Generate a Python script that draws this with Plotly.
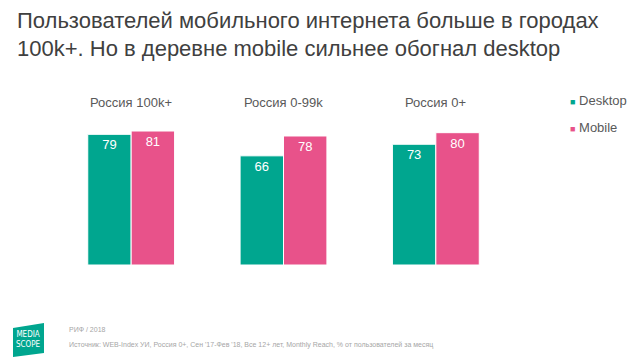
import plotly.graph_objects as go

# ---- data ----
categories = ["Россия 100k+", "Россия 0-99k", "Россия 0+"]
series_names = ["Desktop", "Mobile"]
desktop = [79, 66, 73]
mobile = [81, 78, 80]
series_values = [desktop, mobile]
colors = ["#00A68F", "#E8528A"]

title_lines = ["Пользователей мобильного интернета больше в городах",
               "100k+. Но в деревне mobile сильнее обогнал desktop"]
footer_top = "РИФ / 2018"
footer_src = ("Источник: WEB-Index УИ, Россия 0+, Сен '17-Фев '18, Все 12+ лет, "
              "Monthly Reach, % от пользователей за месяц")

FONT = "Arial, Liberation Sans, sans-serif"
OFF = 8                      # page body margin of the html page
W, H = 640 - OFF, 361 - OFF  # figure size so that it fits the window
# plot area in window pixels
PL, PR, PT, PB = 55, 512, 80, 265
ML, MT = PL - OFF, PT - OFF
MR, MB = W - (PR - OFF), H - (PB - OFF)
PW, PH = W - ML - MR, H - MT - MB


def px_x(x):
    """window x pixel -> paper coordinate"""
    return (x - OFF - ML) / PW


def px_y(y):
    """window y pixel -> paper coordinate"""
    return (H - MB - (y - OFF)) / PH


fig = go.Figure()
for name, vals, col in zip(series_names, series_values, colors):
    fig.add_trace(go.Bar(
        x=categories, y=vals, name=name,
        marker=dict(color=col, line=dict(color="white", width=1)),
        text=vals, texttemplate="%{text}", textposition="inside",
        insidetextanchor="end",
        textfont=dict(color="white", size=13, family=FONT),
        showlegend=False, hoverinfo="skip",
    ))

annotations = []
# title (two lines)
for i, line in enumerate(title_lines):
    annotations.append(dict(
        x=px_x(15), xref="paper", y=px_y(21 + 28 * i), yref="paper",
        text=line, showarrow=False, xanchor="left", yanchor="middle",
        font=dict(size=22, color="#404040", family=FONT)))

# category labels above groups
for c in categories:
    annotations.append(dict(
        x=c, xref="x", y=px_y(102), yref="paper", text=c, showarrow=False,
        font=dict(size=13, color="#595959", family=FONT),
        xanchor="center", yanchor="middle"))

# legend
for i, (name, col) in enumerate(zip(series_names, colors)):
    annotations.append(dict(
        x=px_x(568), xref="paper", y=px_y(101 + 26 * i), yref="paper",
        text=f"<span style='color:{col};font-size:9px'>■</span> {name}",
        showarrow=False, xanchor="left", yanchor="middle",
        font=dict(size=13, color="#595959", family=FONT)))

# footer
annotations.append(dict(
    x=px_x(67), xref="paper", y=px_y(329), yref="paper", text=footer_top,
    showarrow=False, xanchor="left", yanchor="middle",
    font=dict(size=7, color="#A6A6A6", family=FONT)))
annotations.append(dict(
    x=px_x(67), xref="paper", y=px_y(345), yref="paper", text=footer_src,
    showarrow=False, xanchor="left", yanchor="middle",
    font=dict(size=7, color="#A6A6A6", family=FONT)))

# logo text
annotations.append(dict(
    x=px_x(28.5), xref="paper", y=px_y(339), yref="paper",
    text="MEDIA<br>SCOPE", showarrow=False, xanchor="center", yanchor="middle",
    font=dict(size=8, color="white", family="DejaVu Sans Condensed, sans-serif")))

shapes = [dict(
    type="path", xref="paper", yref="paper",
    path=(f"M {px_x(13)} {px_y(328)} L {px_x(44)} {px_y(323)} "
          f"L {px_x(44)} {px_y(353)} L {px_x(13)} {px_y(357)} Z"),
    fillcolor="#00A68F", line=dict(width=0))]

fig.update_layout(
    width=W, height=H,
    margin=dict(l=ML, r=MR, t=MT, b=MB, pad=0),
    paper_bgcolor="white", plot_bgcolor="white",
    barmode="group", bargap=0.43, bargroupgap=0,
    xaxis=dict(visible=False, range=[-0.5, 2.5]),
    yaxis=dict(visible=False, range=[0, PH / 1.654]),
    annotations=annotations, shapes=shapes,
    showlegend=False,
)

fig.write_html("out.html")
